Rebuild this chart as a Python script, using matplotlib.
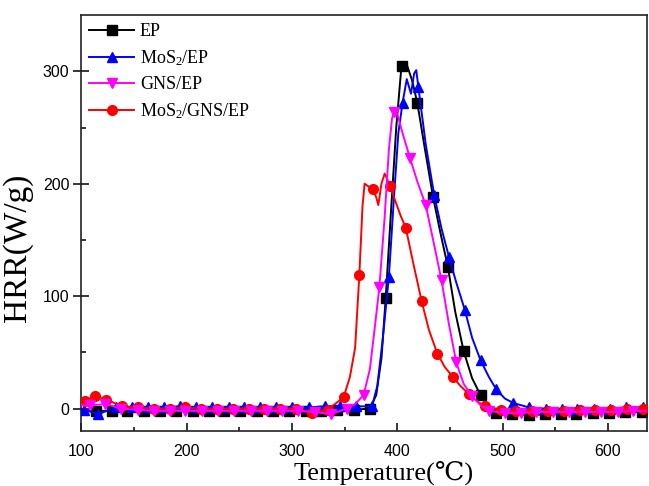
import numpy as np
import matplotlib
matplotlib.use("Agg")
import matplotlib.pyplot as plt

# Temperature (C) / HRR (W/g)
ep_T = [100, 114, 129, 144, 160, 175, 190, 206, 221, 236, 251, 267, 282, 297, 313, 328, 343, 359, 374,
        380, 385, 389, 394, 399, 404, 409, 414, 419, 426, 434, 441, 448, 455, 463, 471, 479, 487,
        494, 509, 525, 540, 555, 570, 586, 601, 616, 632, 637]
ep_H = [-1, -2, -2, -2, -2, -2, -2, -2, -2, -2, -2, -2, -2, -2, -2, -2, -1, -1, 0,
        12, 45, 98, 175, 250, 305, 306, 292, 272, 232, 188, 156, 126, 86, 51, 27, 12, 0,
        -4, -5, -6, -5, -5, -5, -4, -4, -3, -3, -3]
ep_mk = [114, 129, 144, 160, 175, 190, 206, 221, 236, 251, 267, 282, 297, 313, 328, 343, 359, 374,
         389, 404, 419, 434, 448, 463, 479, 494, 509, 525, 540, 555, 570, 586, 601, 616, 632]

mos_T = [100, 103, 116, 133, 148, 163, 179, 194, 209, 224, 240, 255, 270, 285, 300, 316, 331, 346, 361, 376,
         381, 386, 392, 397, 401, 405, 409, 413, 416, 418, 420, 427, 435, 442, 449, 456, 464, 471, 479,
         487, 494, 502, 510, 525, 541, 556, 571, 587, 602, 617, 633, 637]
mos_H = [0, -1, -5, 1, 1, 1, 1, 2, 1, 1, 1, 1, 1, 1, 1, 1, 2, 2, 2, 2,
         20, 60, 117, 190, 245, 272, 293, 280, 298, 301, 286, 235, 190, 160, 135, 112, 88, 63, 43,
         28, 17, 9, 5, 1, 0, 0, 0, 0, 0, 1, 1, 1]
mos_mk = [103, 116, 133, 148, 163, 179, 194, 209, 224, 240, 255, 270, 285, 300, 316, 331, 346, 361, 376,
          392, 405, 420, 435, 449, 464, 479, 494, 510, 525, 541, 556, 571, 587, 602, 617, 633]

gns_T = [100, 108, 123, 138, 154, 169, 184, 199, 215, 230, 245, 261, 276, 291, 306, 322, 337, 352,
         360, 368, 374, 379, 383, 388, 392, 395, 397, 400, 405, 412, 419, 427, 434, 442, 449, 456,
         463, 471, 479, 487, 502, 517, 532, 548, 563, 578, 593, 609, 624, 637]
gns_H = [3, 3, 4, 0, -1, -2, -2, -2, -2, -2, -2, -2, -2, -2, -2, -3, -5, 0,
         4, 12, 35, 75, 108, 170, 230, 258, 264, 262, 245, 223, 202, 181, 150, 114, 75, 41,
         22, 11, 3, -2, -4, -4, -3, -3, -3, -3, -3, -3, -2, -2]
gns_mk = [108, 123, 138, 154, 169, 184, 199, 215, 230, 245, 261, 276, 291, 306, 322, 337, 352,
          368, 383, 397, 412, 427, 442, 456, 471, 487, 502, 517, 532, 548, 563, 578, 593, 609, 624]

mgn_T = [100, 104, 113, 124, 139, 154, 169, 184, 199, 214, 229, 244, 259, 274, 289, 304, 319, 334, 349,
         355, 360, 364, 367, 369, 372, 377, 380, 382, 385, 388, 390, 393, 398, 403, 408, 415, 423,
         430, 438, 445, 453, 460, 468, 475, 483, 498, 513, 528, 543, 558, 573, 588, 603, 618, 633, 637]
mgn_H = [6, 7, 11, 8, 2, 1, 0, 0, 1, 0, 0, 0, 0, 0, 0, 0, -4, -1, 10,
         28, 54, 119, 180, 200, 198, 195, 188, 181, 200, 209, 205, 198, 185, 172, 161, 130, 96,
         70, 49, 37, 28, 20, 13, 7, 2, -1, -2, -2, -2, -2, -1, -1, -1, 0, 0, 0]
mgn_mk = [104, 113, 124, 139, 154, 169, 184, 199, 214, 229, 244, 259, 274, 289, 304, 319, 334, 349,
          364, 377, 393, 408, 423, 438, 453, 468, 483, 498, 513, 528, 543, 558, 573, 588, 603, 618, 633]

labels = ["EP", "MoS$_2$/EP", "GNS/EP", "MoS$_2$/GNS/EP"]
colors = ["#000000", "#0000ff", "#ff00ff", "#ff0000"]
markers = ["s", "^", "v", "o"]
msizes = [6.5, 7.5, 7.5, 7]
zorders = [2, 3, 5, 4]

plt.rcParams["mathtext.fontset"] = "custom"
plt.rcParams["mathtext.rm"] = "Liberation Serif"
plt.rcParams["mathtext.it"] = "Liberation Serif:italic"

fig = plt.figure(figsize=(6.49, 4.86), dpi=100)
ax = fig.add_axes([0.125, 0.113, 0.872, 0.856])

series = [(ep_T, ep_H, ep_mk), (mos_T, mos_H, mos_mk), (gns_T, gns_H, gns_mk), (mgn_T, mgn_H, mgn_mk)]
for (t, h, mk), lab, c, m, ms, z in zip(series, labels, colors, markers, msizes, zorders):
    idx = list(np.flatnonzero(np.isin(t, mk)))
    ax.plot(t, h, color=c, lw=1.4, marker=m, ms=ms, markevery=idx, label=lab, zorder=z)

ax.set_xlim(100, 637)
ax.set_ylim(-20, 350)
ax.set_xticks([100, 200, 300, 400, 500, 600])
ax.set_xticks([150, 250, 350, 450, 550], minor=True)
ax.set_yticks([0, 100, 200, 300])
ax.set_yticks([50, 150, 250], minor=True)

ax.tick_params(axis="x", which="major", direction="in", length=6, width=1.1, pad=9)
ax.tick_params(axis="x", which="minor", direction="in", length=3, width=1.1)
ax.tick_params(axis="y", which="major", direction="inout", length=11, width=1.1, pad=3)
ax.tick_params(axis="y", which="minor", direction="in", length=3.5, width=1.1)
for lab in ax.get_xticklabels() + ax.get_yticklabels():
    lab.set_family(["Liberation Sans"])
    lab.set_fontsize(11.5)
for s in ax.spines.values():
    s.set_linewidth(1.2)
    s.set_color("#222222")

ax.set_xlabel("Temperature(\u2103)", family=["Liberation Serif", "DejaVu Serif", "DejaVu Sans"],
              fontsize=19)
ax.set_ylabel("HRR(W/g)", family=["Liberation Serif"], fontsize=24)
ax.xaxis.set_label_coords(0.535, -0.07)
ax.yaxis.set_label_coords(-0.085, 0.44)

ax.legend(loc="upper left", frameon=False, prop={"family": "Liberation Serif", "size": 13},
          handlelength=2.5, labelspacing=0.45, borderaxespad=0.1, borderpad=0.35,
          handletextpad=0.3)

fig.savefig("out.png", dpi=100)
